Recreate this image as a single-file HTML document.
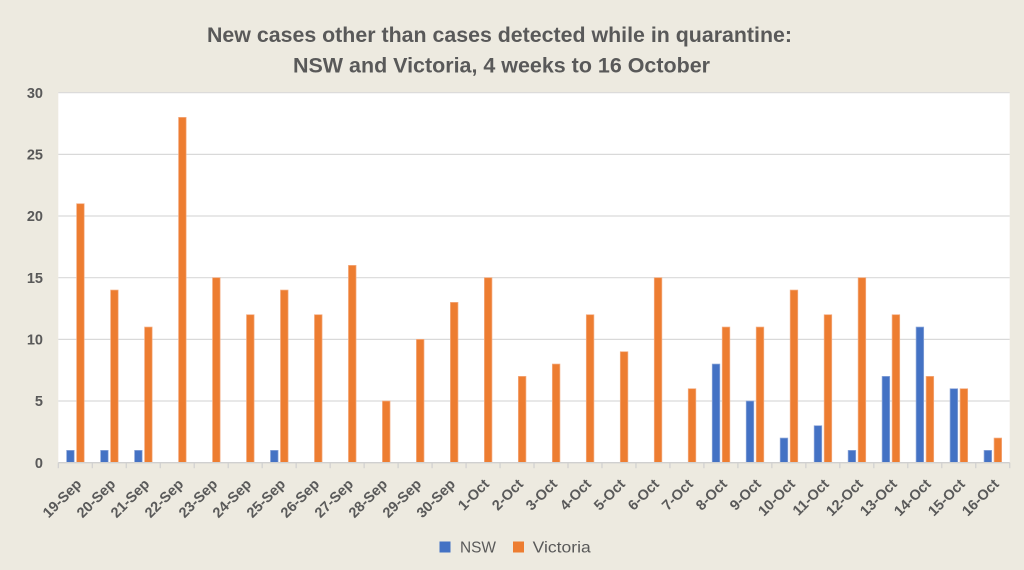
<!DOCTYPE html>
<html>
<head>
<meta charset="utf-8">
<style>
html,body{margin:0;padding:0;background:#EDEAE0;}
svg{display:block;}
text{font-family:"Liberation Sans",sans-serif;fill:#595959;}
</style>
</head>
<body>
<svg width="1024" height="570" viewBox="0 0 1024 570" xmlns="http://www.w3.org/2000/svg">
<rect x="0" y="0" width="1024" height="570" fill="#EDEAE0"/>
<text x="499.5" y="42" font-size="21" font-weight="bold" text-anchor="middle" textLength="585" lengthAdjust="spacingAndGlyphs">New cases other than cases detected while in quarantine:</text>
<text x="501.5" y="72.3" font-size="21" font-weight="bold" text-anchor="middle" textLength="417" lengthAdjust="spacingAndGlyphs">NSW and Victoria, 4 weeks to 16 October</text>
<rect x="58.3" y="92.7" width="951.4" height="370" fill="#FFFFFF"/>
<g stroke="#D9D9D9" stroke-width="1.2">
<line x1="58.3" x2="1009.7" y1="92.7" y2="92.7"/>
<line x1="58.3" x2="1009.7" y1="154.4" y2="154.4"/>
<line x1="58.3" x2="1009.7" y1="216" y2="216"/>
<line x1="58.3" x2="1009.7" y1="277.7" y2="277.7"/>
<line x1="58.3" x2="1009.7" y1="339.4" y2="339.4"/>
<line x1="58.3" x2="1009.7" y1="401" y2="401"/>
</g>
<g font-size="14.5" font-weight="bold" text-anchor="end">
<text x="43" y="97.8">30</text>
<text x="43" y="159.5">25</text>
<text x="43" y="221.1">20</text>
<text x="43" y="282.8">15</text>
<text x="43" y="344.5">10</text>
<text x="43" y="406.1">5</text>
<text x="43" y="467.8">0</text>
</g>
<g id="bars"></g>
<line x1="58.3" x2="1009.7" y1="462.7" y2="462.7" stroke="#D0D0D0" stroke-width="1.3"/>
<g id="ticks" stroke="#D0D0D0" stroke-width="1.2"></g>
<g id="labels" font-size="14.5" font-weight="bold" text-anchor="end"></g>
<rect x="439.5" y="541.5" width="11" height="11" fill="#4472C4"/>
<text x="460" y="552.3" font-size="16" textLength="36" lengthAdjust="spacingAndGlyphs">NSW</text>
<rect x="513" y="541.5" width="11" height="11" fill="#ED7D31"/>
<text x="532.7" y="552.3" font-size="16" textLength="58" lengthAdjust="spacingAndGlyphs">Victoria</text>
</svg>
<script>
(function(){
var NS="http://www.w3.org/2000/svg";
var labels=["19-Sep","20-Sep","21-Sep","22-Sep","23-Sep","24-Sep","25-Sep","26-Sep","27-Sep","28-Sep","29-Sep","30-Sep","1-Oct","2-Oct","3-Oct","4-Oct","5-Oct","6-Oct","7-Oct","8-Oct","9-Oct","10-Oct","11-Oct","12-Oct","13-Oct","14-Oct","15-Oct","16-Oct"];
var nsw=[1,1,1,0,0,0,1,0,0,0,0,0,0,0,0,0,0,0,0,8,5,2,3,1,7,11,6,1];
var vic=[21,14,11,28,15,12,14,12,16,5,10,13,15,7,8,12,9,15,6,11,11,14,12,15,12,7,6,2];
var x0=58.3,cw=33.98,y0=462.7,k=12.333;
var bars=document.getElementById("bars"),ticks=document.getElementById("ticks"),lab=document.getElementById("labels");
function rect(x,y,w,h,f,s){var r=document.createElementNS(NS,"rect");r.setAttribute("x",x);r.setAttribute("y",y);r.setAttribute("width",w);r.setAttribute("height",h);r.setAttribute("fill",f);r.setAttribute("stroke",s);r.setAttribute("stroke-width","0.7");bars.appendChild(r);}
for(var i=0;i<28;i++){
 var s=x0+cw*i;
 if(nsw[i]>0){rect(s+8.3,y0-nsw[i]*k,7.6,nsw[i]*k,"#4472C4","#8FA8DA");}
 if(vic[i]>0){rect(s+18.3,y0-vic[i]*k,7.6,vic[i]*k,"#ED7D31","#F4AE84");}
}
for(var j=0;j<=28;j++){
 var l=document.createElementNS(NS,"line");var xx=x0+cw*j;
 l.setAttribute("x1",xx);l.setAttribute("x2",xx);l.setAttribute("y1",y0);l.setAttribute("y2",y0+5.5);ticks.appendChild(l);
}
for(var i=0;i<28;i++){
 var c=x0+cw*i+17;var ex=c+7,ey=485;
 var t=document.createElementNS(NS,"text");
 t.setAttribute("x",ex);t.setAttribute("y",ey);
 t.setAttribute("transform","rotate(-45 "+ex+" "+ey+")");
 t.textContent=labels[i];lab.appendChild(t);
}
})();
</script>
</body>
</html>
